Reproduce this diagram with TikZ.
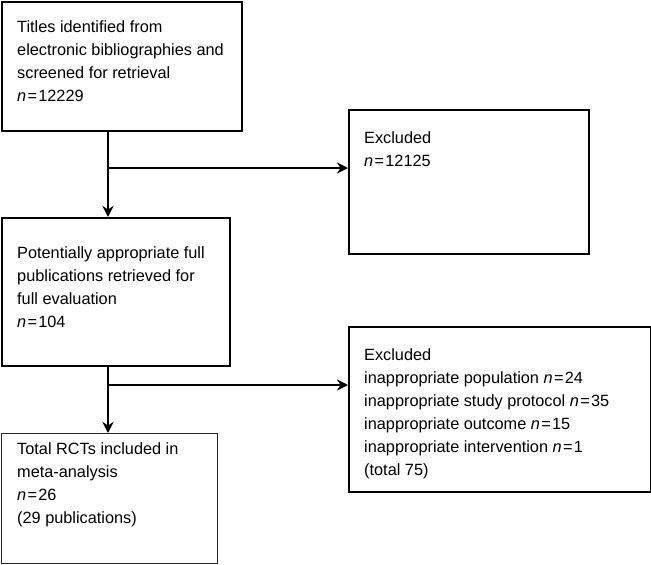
\documentclass[tikz,border=0pt]{standalone}
\usepackage{fontspec}
\setmainfont{Liberation Sans}
\usetikzlibrary{arrows.meta}
\newcommand{\nn}[1]{\textit{n}\hspace{1.3pt}=\hspace{1.3pt}#1}
\newcommand{\toplines}[1]{\begin{tabular}[t]{@{}l@{}}#1\end{tabular}}
\begin{document}
\begin{tikzpicture}[x=1pt,y=-1pt,
  box/.style={draw, line width=2pt, inner sep=0, anchor=north west},
  thinbox/.style={box, line width=1.2pt, draw=black!85},
  txt/.style={anchor=base west, inner sep=0, font=\fontsize{16.3}{23}\selectfont},
  arr/.style={line width=2pt, -{Stealth[length=11pt,width=11pt,inset=3.5pt]}}]
\useasboundingbox (0,0) rectangle (651,565);
\node[box, minimum width=240pt, minimum height=129pt] (b1) at (1,1) {};
\node[box, minimum width=240pt, minimum height=144pt] (b2) at (348,109) {};
\node[box, minimum width=228pt, minimum height=148pt] (b3) at (1,217) {};
\node[box, minimum width=302pt, minimum height=165pt] (b4) at (348,326) {};
\node[thinbox, minimum width=216pt, minimum height=130pt] (b5) at (1,433) {};

\node[txt] (t1) at (17,32) {\toplines{Titles identified from\\electronic bibliographies and\\screened for retrieval\\\nn{12229}}};
\node[txt] (t2) at (364,143) {\toplines{Excluded\\\nn{12125}}};
\node[txt] (t3) at (17,258) {\toplines{Potentially appropriate full\\publications retrieved for\\full evaluation\\\nn{104}}};
\node[txt] (t4) at (364,360) {\toplines{Excluded\\inappropriate population \nn{24}\\inappropriate study protocol \nn{35}\\inappropriate outcome \nn{15}\\inappropriate intervention \nn{1}\\(total 75)}};
\node[txt] (t5) at (17,454) {\toplines{Total RCTs included in\\meta-analysis\\\nn{26}\\(29 publications)}};

\coordinate (j1) at (108,168);
\coordinate (j2) at (108,385);
\draw[line width=2pt] (b1.south -| j1) -- (j1);
\draw[arr] (j1) -- (b3.north -| j1);
\draw[arr] (j1) -- (j1 -| b2.west);
\draw[line width=2pt] (b3.south -| j2) -- (j2);
\draw[arr] (j2) -- (b5.north -| j2);
\draw[arr] (j2) -- (j2 -| b4.west);
\end{tikzpicture}
\end{document}
